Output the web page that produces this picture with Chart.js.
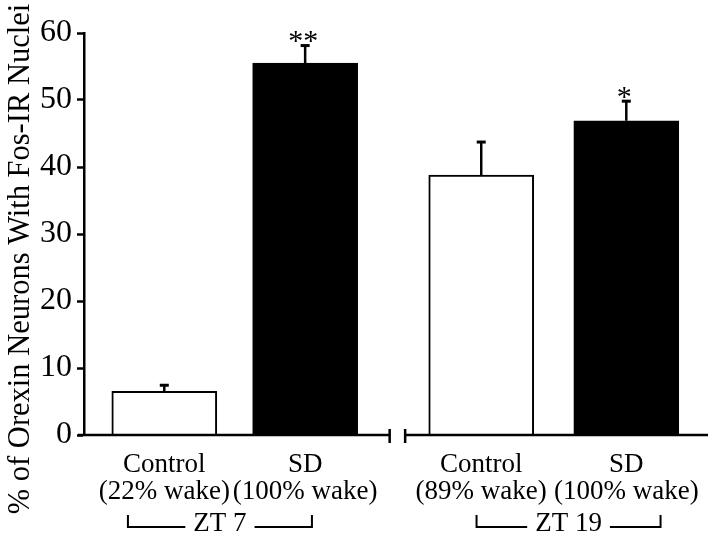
<!DOCTYPE html>
<html>
<head>
<meta charset="utf-8">
<script src="https://cdn.jsdelivr.net/npm/chart.js@4.4.1/dist/chart.umd.min.js"></script>
<style>
  html, body { margin: 0; padding: 0; background: #fff; }
  #wrap { width: 720px; height: 543px; position: relative; }
</style>
</head>
<body>
<div id="wrap"><canvas id="chart"></canvas></div>
<script>
// data
const conditions = ["Control", "SD", "Control", "SD"];
const wakeLabels = ["(22% wake)", "(100% wake)", "(89% wake)", "(100% wake)"];
const fosValues = [6.5, 55.5, 38.8, 46.9];
const fosSem = [1.0, 2.7, 5.0, 3.0];
const stars = ["", "**", "", "*"];
const groupNames = ["ZT 7", "ZT 19"];
const yTicks = [0, 10, 20, 30, 40, 50, 60];

// layout of the broken x axis (in x-scale units)
const slots = [0.57, 1.57, 2.82, 3.85];
const groupCenters = [0.965, 3.44];
const xMax = 4.43;
const breakAt = [2.17, 2.28];

const serif = "'Liberation Serif', 'DejaVu Serif', serif";

const extras = {
  id: 'extras',
  afterDatasetsDraw(chart) {
    const ctx = chart.ctx;
    const x = chart.scales.x, y = chart.scales.y;
    const area = chart.chartArea;
    ctx.save();
    ctx.strokeStyle = '#000';
    ctx.fillStyle = '#000';

    // error bars (upper only) and significance stars
    fosValues.forEach((v, i) => {
      const px = x.getPixelForValue(slots[i]);
      const top = y.getPixelForValue(v);
      const cap = y.getPixelForValue(v + fosSem[i]);
      ctx.lineWidth = 2.5;
      ctx.beginPath();
      ctx.moveTo(px, top);
      ctx.lineTo(px, cap);
      ctx.stroke();
      ctx.fillRect(px - 4.5, cap - 1, 9, 3);
      if (stars[i]) {
        ctx.font = '30px ' + serif;
        ctx.textAlign = 'center';
        ctx.textBaseline = 'alphabetic';
        ctx.fillText(stars[i], px - 2, cap + 5);
      }
    });

    // broken x axis
    const by = area.bottom;
    const b0 = x.getPixelForValue(breakAt[0]);
    const b1 = x.getPixelForValue(breakAt[1]);
    ctx.lineWidth = 2.5;
    ctx.beginPath();
    ctx.moveTo(area.left - 6, by);
    ctx.lineTo(b0, by);
    ctx.moveTo(b1, by);
    ctx.lineTo(area.right, by);
    ctx.moveTo(b0, by - 6);
    ctx.lineTo(b0, by + 8);
    ctx.moveTo(b1, by - 6);
    ctx.lineTo(b1, by + 8);
    ctx.stroke();

    // group brackets
    ctx.font = '27px ' + serif;
    ctx.textAlign = 'center';
    ctx.textBaseline = 'alphabetic';
    ctx.lineWidth = 2;
    groupNames.forEach((g, i) => {
      const cx = x.getPixelForValue(groupCenters[i]);
      const half = 92;
      const tw = ctx.measureText(g).width;
      const ly = 527;
      ctx.fillText(g, cx, 531);
      ctx.beginPath();
      ctx.moveTo(cx - half, ly - 12);
      ctx.lineTo(cx - half, ly);
      ctx.lineTo(cx - tw / 2 - 8, ly);
      ctx.moveTo(cx + tw / 2 + 8, ly);
      ctx.lineTo(cx + half, ly);
      ctx.lineTo(cx + half, ly - 12);
      ctx.stroke();
    });

    // y axis title
    ctx.font = '30.5px ' + serif;
    ctx.translate(21, 259);
    ctx.rotate(-Math.PI / 2);
    ctx.textBaseline = 'middle';
    ctx.fillText('% of Orexin Neurons With Fos-IR Nuclei', 0, 0);
    ctx.restore();
  }
};

new Chart(document.getElementById('chart'), {
  type: 'bar',
  data: {
    datasets: [{
      data: fosValues.map((v, i) => ({ x: slots[i], y: v })),
      backgroundColor: ['#fff', '#000', '#fff', '#000'],
      borderColor: '#000',
      borderWidth: 2,
      barThickness: 105
    }]
  },
  options: {
    responsive: true,
    maintainAspectRatio: false,
    animation: false,
    layout: { padding: { top: 33, right: 12, left: 0, bottom: 0 } },
    plugins: { legend: { display: false }, tooltip: { enabled: false } },
    scales: {
      x: {
        type: 'linear',
        min: 0,
        max: xMax,
        offset: false,
        grid: { display: false, drawTicks: false, offset: false },
        border: { display: false },
        afterBuildTicks: (axis) => { axis.ticks = slots.map(v => ({ value: v })); },
        afterFit: (axis) => { axis.height = 108; },
        ticks: {
          autoSkip: false,
          maxRotation: 0,
          minRotation: 0,
          padding: 16,
          color: '#000',
          font: { family: serif, size: 27, lineHeight: 1.0 },
          callback: (val, i) => [conditions[i], wakeLabels[i]]
        }
      },
      y: {
        min: 0,
        max: 60,
        afterBuildTicks: (axis) => { axis.ticks = yTicks.map(v => ({ value: v })); },
        afterFit: (axis) => { axis.width = 84; },
        grid: { display: true, drawOnChartArea: false, drawTicks: true, tickLength: 7, tickWidth: 2.5, color: '#000' },
        border: { display: true, color: '#000', width: 2.5 },
        ticks: {
          padding: 5,
          color: '#000',
          font: { family: serif, size: 32 }
        }
      }
    }
  },
  plugins: [extras]
});
</script>
</body>
</html>
